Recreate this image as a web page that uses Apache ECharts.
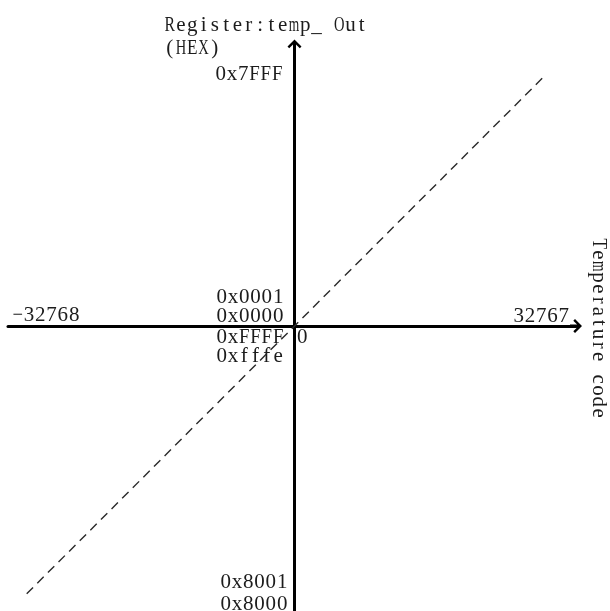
<!DOCTYPE html>
<html>
<head>
<meta charset="utf-8">
<style>
  html, body { margin: 0; padding: 0; background: #fff; }
  #chart { width: 610px; height: 611px; }
</style>
<script src="https://cdn.jsdelivr.net/npm/echarts@6/dist/echarts.min.js"></script>
</head>
<body>
<div id="chart"></div>
<script>
// Transfer line: register value follows the temperature code one-to-one
const lineCodes = [-35100, 32767];
const lineRegister = [-35100, 32767];

// Axis titles
const yTitle = ['Register:temp_ Out', '(HEX)'];
const xTitle = 'Temperature code';

// Register value annotations along the vertical axis
const yTickLabels = ['0x7FFF', '0x0001', '0x0000', '0xFFFF', '0xfffe', '0x8001', '0x8000'];
// Code annotations along the horizontal axis
const xTickLabels = ['\u221232768', '0', '32767'];

const FONT_FAMILY = '"Liberation Serif", "DejaVu Serif", serif';
const FONT_SIZE = 21;
const FONT = FONT_SIZE + 'px ' + FONT_FAMILY;
const CELL = 11.3;          // fixed advance per character (half-width look)
const TEXT_COLOR = '#1c1c1c';

const measureCtx = document.createElement('canvas').getContext('2d');
measureCtx.font = FONT;

// Lay a string out with a fixed advance per character; wide glyphs are condensed to fit their cell
function monoText(str, left, cy, rotation) {
  return {
    type: 'group',
    x: left,
    y: cy,
    rotation: rotation || 0,
    silent: true,
    children: Array.from(str).map((ch, i) => {
      const w = measureCtx.measureText(ch).width;
      const s = w > CELL - 0.8 ? (CELL - 0.8) / w : 1;
      return {
        type: 'text',
        x: i * CELL + CELL / 2,
        y: 0,
        scaleX: s,
        style: {
          text: ch,
          font: FONT,
          fill: TEXT_COLOR,
          align: 'center',
          verticalAlign: 'middle',
          textAlign: 'center',
          textVerticalAlign: 'middle'
        }
      };
    })
  };
}

// Open arrow head with a short stem, tip at the top of its box
const ARROW = 'path://M7,0 L14,7 L12.3,8.7 L8.5,4.9 L8.5,12 L5.5,12 L5.5,4.9 L1.7,8.7 L0,7 Z';

const chart = echarts.init(document.getElementById('chart'), null, { renderer: 'canvas' });

const axisLine = {
  show: true,
  onZero: true,
  symbol: ['none', ARROW],
  symbolSize: [14, 12],
  lineStyle: { color: '#000', width: 3 }
};

const yLabelPos = [
  [215, 74], [216, 297], [216, 316], [216, 337], [216, 356], [220, 582], [220, 604]
];
const xLabelPos = [[12, 315], [296.5, 337], [513, 316]];

const graphics = [];
graphics.push(monoText(yTitle[0], 164, 25));
graphics.push(monoText(yTitle[1], 164, 48));
yTickLabels.forEach((t, i) => graphics.push(monoText(t, yLabelPos[i][0], yLabelPos[i][1])));
xTickLabels.forEach((t, i) => graphics.push(monoText(t, xLabelPos[i][0], xLabelPos[i][1])));
graphics.push(monoText(xTitle, 599, 238, -Math.PI / 2));

chart.setOption({
  animation: false,
  backgroundColor: '#fff',
  grid: { left: 8, right: 34, top: 45.5, bottom: 0, containLabel: false },
  xAxis: {
    type: 'value',
    min: -37551,
    max: 36895,
    axisLine: axisLine,
    axisTick: { show: false },
    axisLabel: { show: false },
    splitLine: { show: false }
  },
  yAxis: {
    type: 'value',
    min: -37353,
    max: 36764,
    axisLine: axisLine,
    axisTick: { show: false },
    axisLabel: { show: false },
    splitLine: { show: false }
  },
  series: [{
    type: 'line',
    silent: true,
    symbol: 'none',
    z: 1,
    data: lineCodes.map((c, i) => [c, lineRegister[i]]),
    lineStyle: { color: '#2a2a2a', width: 1.4, type: [9, 6] }
  }],
  graphic: graphics
});
</script>
</body>
</html>
